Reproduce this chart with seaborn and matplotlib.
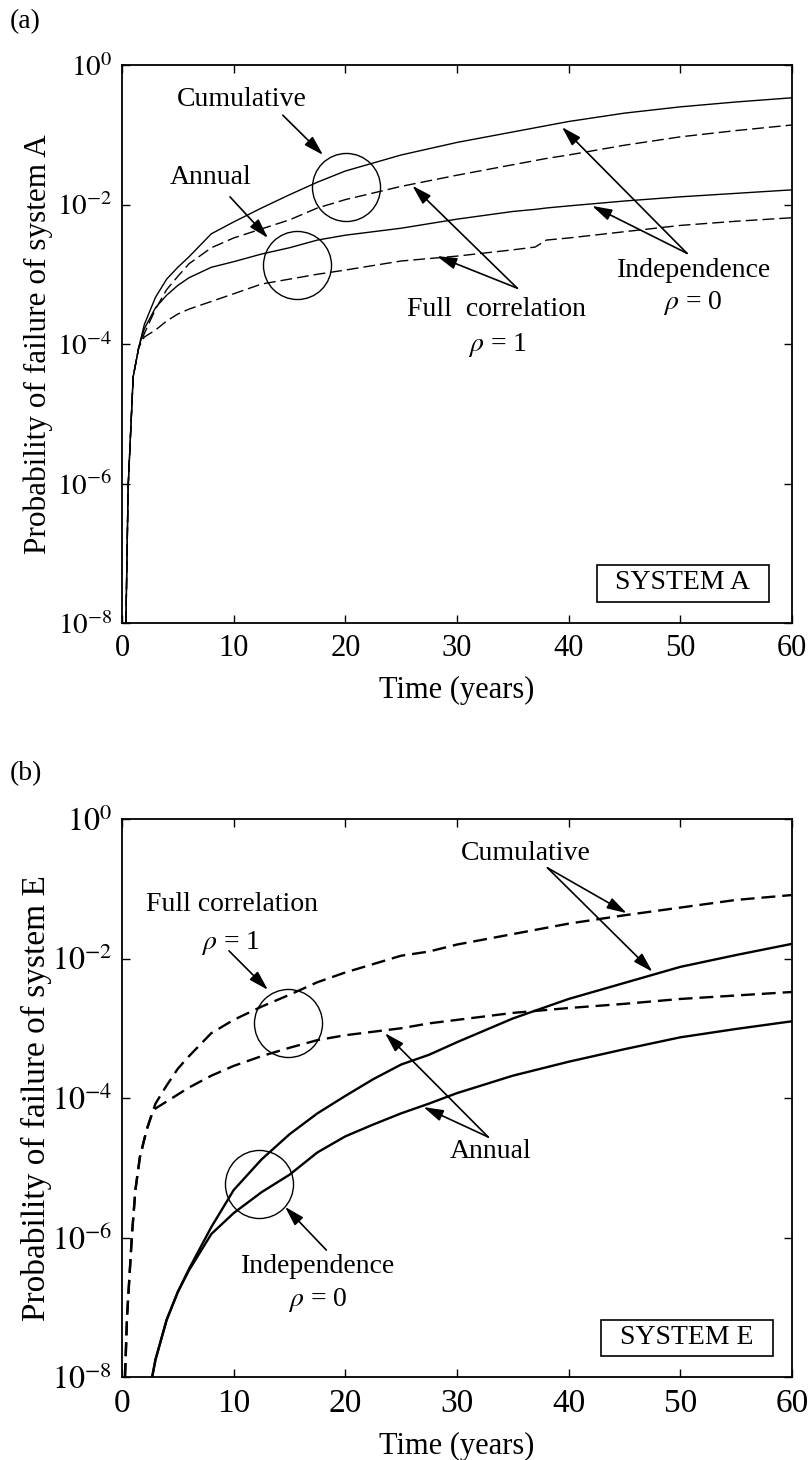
import numpy as np
import pandas as pd
import matplotlib
matplotlib.use("Agg")
import matplotlib.pyplot as plt
import seaborn as sns
from matplotlib.patches import Rectangle
from matplotlib.ticker import FixedLocator, FuncFormatter, NullLocator

sns.set_theme(style="white")
plt.rcParams["font.family"] = ["Liberation Serif", "DejaVu Serif"]
plt.rcParams["mathtext.fontset"] = "stix"
plt.rcParams["lines.scale_dashes"] = False

# ---------------- data (values given as log10 of probability) ----------------
# Panel (a): System A
t_a = [0.35, 0.55, 1.0, 1.5, 2, 3, 4, 5, 6, 8, 10, 12.5, 15, 17.5, 20, 25, 30,
       35, 37, 38, 40, 45, 50, 55, 60]
a_cum_ind = [-8, -6.05, -4.47, -4.05, -3.72, -3.33, -3.07, -2.90, -2.75, -2.42,
             -2.25, -2.05, -1.86, -1.68, -1.52, -1.29, -1.11, -0.96, -0.90,
             -0.87, -0.81, -0.69, -0.60, -0.53, -0.47]
a_cum_full = [-8, -6.05, -4.47, -4.05, -3.85, -3.50, -3.22, -3.03, -2.85, -2.62,
              -2.48, -2.35, -2.22, -2.05, -1.93, -1.74, -1.58, -1.43, -1.37,
              -1.34, -1.29, -1.15, -1.03, -0.94, -0.86]
a_ann_ind = [-8, -6.05, -4.47, -4.05, -3.78, -3.48, -3.30, -3.16, -3.05, -2.90,
             -2.82, -2.71, -2.62, -2.51, -2.44, -2.34, -2.21, -2.10, -2.07,
             -2.05, -2.02, -1.95, -1.89, -1.84, -1.79]
a_ann_full = [-8, -6.05, -4.47, -4.05, -3.90, -3.80, -3.67, -3.57, -3.50, -3.39,
              -3.28, -3.14, -3.07, -3.00, -2.94, -2.81, -2.74, -2.65, -2.61,
              -2.51, -2.48, -2.39, -2.30, -2.24, -2.19]

# Panel (b): System E
t_b = [0.27, 0.45, 0.9, 1.2, 1.6, 2.2, 2.7, 3, 4, 5, 6, 8, 10, 12.5, 15, 17.5,
       20, 22.5, 25, 27.5, 30, 35, 40, 45, 50, 55, 60]
b_cum_full = [-8, -7.14, -5.94, -5.32, -4.85, -4.46, -4.22, -4.08, -3.82, -3.58,
              -3.40, -3.07, -2.88, -2.69, -2.52, -2.34, -2.20, -2.08, -1.96,
              -1.90, -1.80, -1.65, -1.50, -1.38, -1.27, -1.16, -1.09]
b_ann_full = [-8, -7.14, -5.94, -5.32, -4.85, -4.46, -4.22, -4.15, -4.05, -3.95,
              -3.85, -3.68, -3.54, -3.40, -3.28, -3.17, -3.10, -3.05, -3.00,
              -2.93, -2.88, -2.78, -2.71, -2.65, -2.58, -2.53, -2.48]
t_b_ind = [2.7, 3, 4, 5, 6, 8, 10, 12.5, 15, 17.5, 20, 22.5, 25, 27.5, 30, 35,
           40, 45, 50, 55, 60]
b_cum_ind = [-8, -7.75, -7.18, -6.78, -6.45, -5.85, -5.32, -4.88, -4.52, -4.22,
             -3.97, -3.73, -3.52, -3.38, -3.20, -2.86, -2.58, -2.35, -2.12,
             -1.95, -1.79]
b_ann_ind = [-8, -7.75, -7.18, -6.78, -6.47, -5.95, -5.65, -5.35, -5.10, -4.78,
             -4.55, -4.38, -4.22, -4.08, -3.93, -3.68, -3.48, -3.30, -3.13,
             -3.01, -2.90]

y_ticks = [1e-8, 1e-6, 1e-4, 1e-2, 1e0]
x_ticks = [0, 10, 20, 30, 40, 50, 60]


def frame(curves):
    rows = []
    for name, kind, t, lg in curves:
        rows.append(pd.DataFrame({"t": t, "p": np.power(10.0, lg),
                                  "curve": name, "kind": kind}))
    return pd.concat(rows, ignore_index=True)


df_a = frame([("cum_ind", "solid", t_a, a_cum_ind),
              ("cum_full", "dashed", t_a, a_cum_full),
              ("ann_ind", "solid", t_a, a_ann_ind),
              ("ann_full", "dashed", t_a, a_ann_full)])
df_b = frame([("cum_full", "dashed", t_b, b_cum_full),
              ("ann_full", "dashed", t_b, b_ann_full),
              ("cum_ind", "solid", t_b_ind, b_cum_ind),
              ("ann_ind", "solid", t_b_ind, b_ann_ind)])

fig = plt.figure(figsize=(8.12, 14.6), dpi=100)
ax_a = fig.add_axes([122 / 812, 1 - 623 / 1460, 670 / 812, 558 / 1460])
ax_b = fig.add_axes([122 / 812, 1 - 1377 / 1460, 670 / 812, 558 / 1460])


def base(ax, df, lw, dash, xtick_fs, ytick_fs, ylabel, ylabel_fs, xlabel_fs,
         ylab_x, xlab_y):
    ax.set_yscale("log")
    sns.lineplot(data=df, x="t", y="p", style="kind", units="curve",
                 estimator=None, dashes={"solid": "", "dashed": dash},
                 color="black", linewidth=lw, legend=False, ax=ax, sort=False)
    ax.set_xlim(0, 60)
    ax.set_ylim(1e-8, 1)
    ax.xaxis.set_major_locator(FixedLocator(x_ticks))
    ax.yaxis.set_major_locator(FixedLocator(y_ticks))
    ax.yaxis.set_minor_locator(NullLocator())
    ax.xaxis.set_minor_locator(NullLocator())
    ax.yaxis.set_major_formatter(FuncFormatter(
        lambda v, pos: "$10^{%d}$" % int(round(np.log10(v)))))
    ax.tick_params(axis="both", which="major", direction="in", length=6,
                   width=1, color="black", top=True, right=True, bottom=True,
                   left=True)
    ax.tick_params(axis="x", labelsize=xtick_fs, pad=8)
    ax.tick_params(axis="y", labelsize=ytick_fs, pad=7)
    for lab in ax.get_xticklabels() + ax.get_yticklabels():
        lab.set_color("black")
    for s in ax.spines.values():
        s.set_color("black")
        s.set_linewidth(1.3)
    ax.set_xlabel("Time (years)", fontsize=xlabel_fs, color="black")
    ax.set_ylabel(ylabel, fontsize=ylabel_fs, color="black")
    ax.xaxis.set_label_coords(0.5, xlab_y)
    ax.yaxis.set_label_coords(ylab_x, 0.5)
    ax.set_facecolor("white")


base(ax_a, df_a, 1.0, (8.5, 3.6), 22, 21, "Probability of failure of system A",
     22.5, 22, -0.103, -0.095)
base(ax_b, df_b, 1.7, (10, 5), 24, 23, "Probability of failure of system E",
     24, 22, -0.104, -0.098)

arrow_kw = dict(arrowstyle="-|>,head_length=0.75,head_width=0.22", color="black",
                lw=1.2, shrinkA=0, shrinkB=0, mutation_scale=16)


def label(ax, t, e, s, fs=20):
    ax.text(t, 10 ** e, s, ha="center", va="center", fontsize=fs, color="black")


def arrow(ax, start, tip):
    ax.annotate("", xy=(tip[0], 10 ** tip[1]), xytext=(start[0], 10 ** start[1]),
                arrowprops=arrow_kw)


def circle(ax, t, e):
    ax.plot([t], [10 ** e], marker="o", ms=49, mfc="none", mec="black",
            mew=1.0, ls="none")


# ---- panel (a) annotations ----
circle(ax_a, 20.1, -1.75)
circle(ax_a, 15.7, -2.87)
label(ax_a, 10.75, -0.49, "Cumulative")
arrow(ax_a, (14.4, -0.72), (18.0, -1.29))
label(ax_a, 7.97, -1.62, "Annual")
arrow(ax_a, (9.67, -1.89), (13.07, -2.48))
label(ax_a, 33.5, -3.51, "Full  correlation")
label(ax_a, 33.6, -4.01, r"$\rho$ = 1")
arrow(ax_a, (35.4, -3.20), (26.0, -1.73))
arrow(ax_a, (35.4, -3.20), (28.2, -2.74))
label(ax_a, 51.2, -2.94, "Independence")
label(ax_a, 51.1, -3.41, r"$\rho$ = 0")
arrow(ax_a, (50.6, -2.70), (39.4, -0.89))
arrow(ax_a, (50.6, -2.70), (42.1, -2.02))
ax_a.add_patch(Rectangle((0.709, 0.0376), 0.257, 0.066, transform=ax_a.transAxes,
                         fill=True, fc="white", ec="black", lw=1.2, zorder=5))
ax_a.text(0.837, 0.072, "SYSTEM A", transform=ax_a.transAxes, ha="center",
          va="center", fontsize=20, color="black", zorder=6)

# ---- panel (b) annotations ----
circle(ax_b, 14.9, -2.92)
circle(ax_b, 12.3, -5.23)
label(ax_b, 9.85, -1.23, "Full correlation")
label(ax_b, 9.67, -1.78, r"$\rho$ = 1")
arrow(ax_b, (9.58, -1.89), (13.07, -2.45))
label(ax_b, 36.2, -0.49, "Cumulative")
arrow(ax_b, (38.1, -0.70), (45.2, -1.35))
arrow(ax_b, (38.1, -0.70), (47.5, -2.19))
label(ax_b, 33.0, -4.76, "Annual")
arrow(ax_b, (32.8, -4.56), (23.55, -3.07))
arrow(ax_b, (32.8, -4.56), (27.0, -4.13))
label(ax_b, 17.6, -6.41, "Independence")
label(ax_b, 17.55, -6.90, r"$\rho$ = 0")
arrow(ax_b, (18.3, -6.18), (14.6, -5.56))
ax_b.add_patch(Rectangle((0.715, 0.0376), 0.257, 0.064, transform=ax_b.transAxes,
                         fill=True, fc="white", ec="black", lw=1.2, zorder=5))
ax_b.text(0.843, 0.070, "SYSTEM E", transform=ax_b.transAxes, ha="center",
          va="center", fontsize=20, color="black", zorder=6)

fig.text(10 / 812, 1 - 22 / 1460, "(a)", ha="left", va="center", fontsize=20,
         color="black")
fig.text(10 / 812, 1 - 774 / 1460, "(b)", ha="left", va="center", fontsize=20,
         color="black")

fig.savefig("out.png", dpi=100, facecolor="white")
